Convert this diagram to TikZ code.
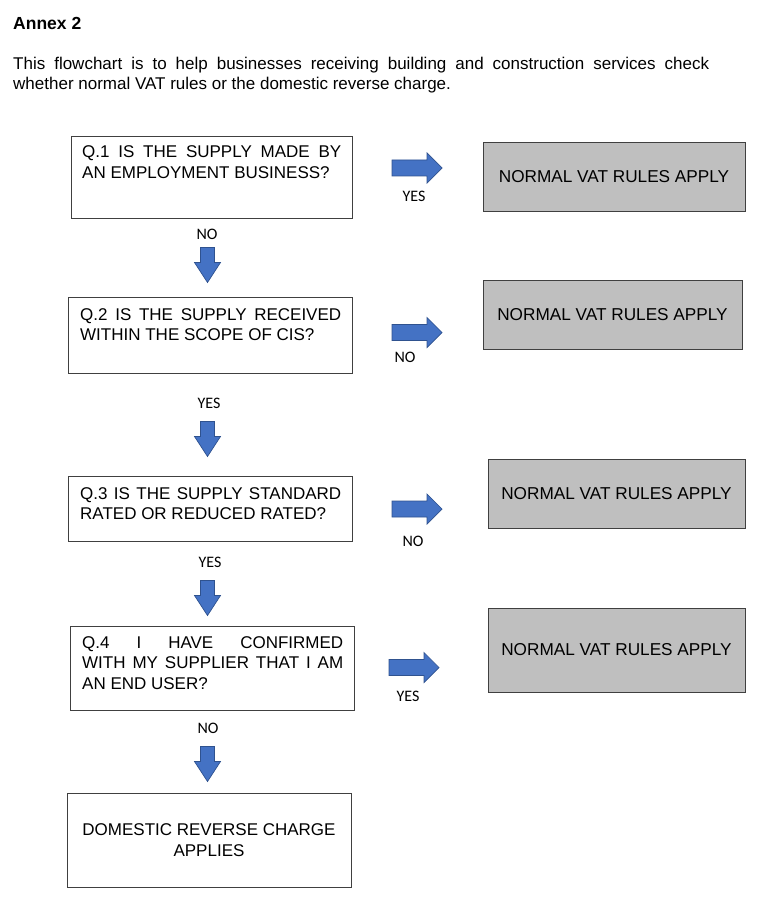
\documentclass[tikz,border=0pt]{standalone}
\usepackage{fontspec}
\setmainfont{Liberation Sans}
\newfontfamily\labelfont{Carlito}
\usepackage{tikz}
\usetikzlibrary{positioning, calc}
\usepackage{xcolor}
\definecolor{arrowblue}{HTML}{4472C4}
\definecolor{arrowedge}{HTML}{2F528F}
\definecolor{boxgrey}{HTML}{BFBFBF}
\definecolor{boxedge}{HTML}{404040}
\hyphenpenalty=10000
\exhyphenpenalty=10000

\begin{document}
\begin{tikzpicture}[x=1pt, y=-1pt,
    qbox/.style={draw=boxedge, line width=0.8pt, fill=white, inner sep=0pt},
    qtext/.style={anchor=base west, inner sep=0pt, text width=261pt, align=justify,
        font=\fontsize{17}{20.5}\selectfont},
    rulebox/.style={draw=boxedge, line width=0.8pt, fill=boxgrey, inner sep=0pt,
        minimum width=258pt, minimum height=69pt, font=\fontsize{17.2}{20.5}\selectfont},
    endbox/.style={draw=boxedge, line width=0.8pt, fill=white, inner sep=0pt,
        minimum width=284pt, minimum height=94pt, align=center,
        font=\fontsize{17}{21}\selectfont},
    answer/.style={inner sep=0pt, font=\labelfont\fontsize{16}{18}\selectfont},
    blockfill/.style={fill=arrowblue, draw=arrowedge, line width=0.7pt, line join=miter},
    rarrow/.pic={\draw[blockfill] (-25,-8) -- (10,-8) -- (10,-15) -- (25,0) -- (10,15) -- (10,8) -- (-25,8) -- cycle;},
    darrow/.pic={\draw[blockfill] (-7,-17.5) -- (7,-17.5) -- (7,-2.5) -- (13,-2.5) -- (0,17.5) -- (-13,-2.5) -- (-7,-2.5) -- cycle;}]
    \useasboundingbox (0,0) rectangle (768,912);

    % Heading
    \node[anchor=base west, inner sep=0pt, font=\bfseries\fontsize{17.5}{21}\selectfont] (title) at (13,30) {Annex 2};
    \node[anchor=base west, inner sep=0pt, text width=696pt, align=justify,
          font=\fontsize{17}{20}\selectfont] (intro) at (13,70)
        {This flowchart is to help businesses receiving building and construction services check\linebreak
         whether normal VAT rules or the domestic reverse charge.};

    % Q.1
    \node[qbox, minimum width=281pt, minimum height=82pt] (q1) at (211.5,177) {};
    \node[qtext, text width=259pt] (q1t) at (82,158) {Q.1 IS THE SUPPLY MADE BY\linebreak AN EMPLOYMENT BUSINESS?};
    \node[rulebox, minimum width=262pt] (n1) at (614,176.5) {NORMAL VAT RULES APPLY};
    \pic at (417,168) {rarrow};
    \node[answer] (a1) at (414,196) {YES};
    \node[answer] (b1) at (207,234) {NO};
    \pic at (207.5,265) {darrow};

    % Q.2
    \node[qbox, minimum width=284pt, minimum height=76pt] (q2) at (210,335) {};
    \node[qtext] (q2t) at (80,320) {Q.2 IS THE SUPPLY RECEIVED WITHIN THE SCOPE OF CIS?};
    \node[rulebox, minimum width=259pt] (n2) at (612.5,314.5) {NORMAL VAT RULES APPLY};
    \pic at (417,332.5) {rarrow};
    \node[answer] (a2) at (405,357.5) {NO};
    \node[answer] (b2) at (209,403) {YES};
    \pic at (207.5,439) {darrow};

    % Q.3
    \node[qbox, minimum width=284pt, minimum height=65pt] (q3) at (210,508.5) {};
    \node[qtext] (q3t) at (80,499) {Q.3 IS THE SUPPLY STANDARD RATED OR REDUCED RATED?};
    \node[rulebox, minimum width=257pt] (n3) at (616.5,493.5) {NORMAL VAT RULES APPLY};
    \pic at (417,509) {rarrow};
    \node[answer] (a3) at (413,541) {NO};
    \node[answer] (b3) at (210,562) {YES};
    \pic at (207.5,598) {darrow};

    % Q.4
    \node[qbox, minimum width=284pt, minimum height=84pt] (q4) at (212,668) {};
    \node[qtext] (q4t) at (82,648) {Q.4 I HAVE CONFIRMED\linebreak WITH MY SUPPLIER THAT I AM AN END USER?};
    \node[rulebox, minimum width=257pt, minimum height=84pt] (n4) at (616.5,650) {NORMAL VAT RULES APPLY};
    \pic at (414,667.5) {rarrow};
    \node[answer] (a4) at (408,696) {YES};
    \node[answer] (b4) at (208,728) {NO};
    \pic at (207.5,764) {darrow};

    % Outcome
    \node[endbox] (drc) at (209,840) {DOMESTIC REVERSE CHARGE\\APPLIES};
\end{tikzpicture}
\end{document}
